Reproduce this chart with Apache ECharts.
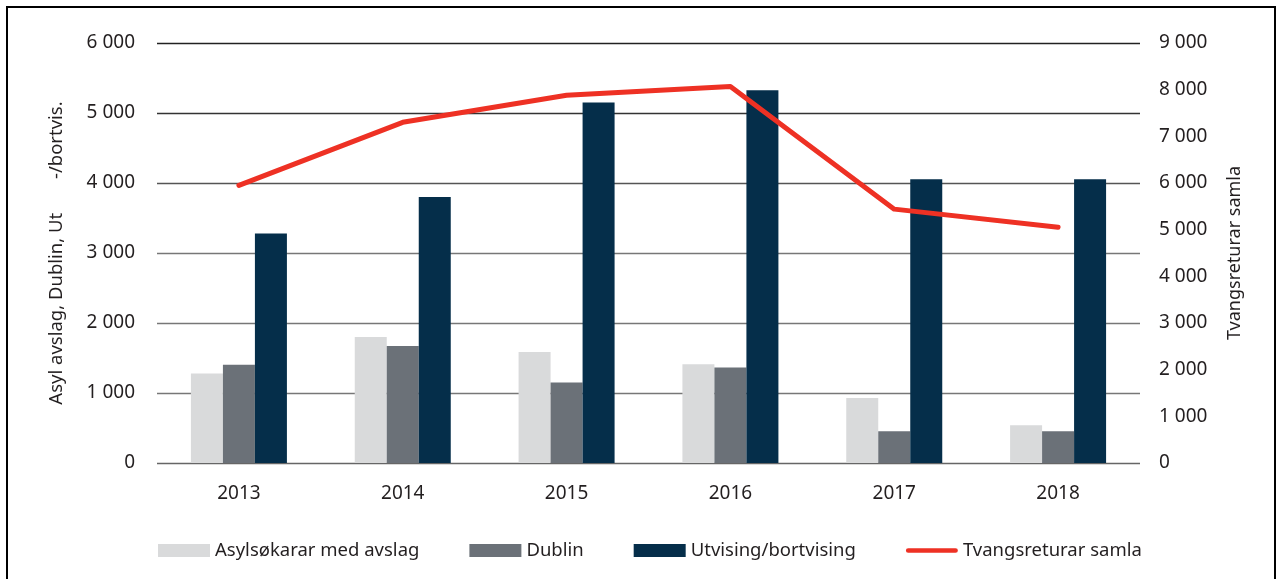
<!DOCTYPE html>
<html>
<head>
<meta charset="utf-8">
<script src="https://cdn.jsdelivr.net/npm/echarts@6/dist/echarts.min.js"></script>
<style>
  html, body { margin: 0; padding: 0; background: #fff; }
  #frame { position: absolute; left: 6px; top: 6px; width: 1266px; height: 580px; border: 2px solid #000; border-bottom: none; }
  #chart { position: absolute; left: 0; top: 0; width: 1281px; height: 579px; }
</style>
</head>
<body>
<div id="frame"></div>
<div id="chart"></div>
<script>
// data
const years = ['2013', '2014', '2015', '2016', '2017', '2018'];
const asylAvslag = [1280, 1800, 1585, 1410, 930, 540];
const dublin = [1405, 1670, 1150, 1365, 455, 455];
const utvising = [3280, 3800, 5150, 5325, 4055, 4055];
const tvangsreturar = [5950, 7300, 7880, 8070, 5440, 5050];

const fontFamily = '"Noto Sans", "Open Sans", sans-serif';
const textColor = '#231f20';

// "6 000" style tick labels
function fmt(v) {
  return String(v).replace(/\B(?=(\d{3})+(?!\d))/g, ' ');
}

let chart = echarts.init(document.getElementById('chart'));
chart.setOption({
  animation: false,
  textStyle: { fontFamily: fontFamily, color: textColor },
  grid: { left: 157, right: 141, top: 43, bottom: 116 },
  legend: {
    left: 158,
    top: 541,
    padding: 0,
    itemWidth: 52,
    itemHeight: 13,
    itemGap: 50,
    textStyle: { fontSize: 18.5, color: textColor, fontFamily: fontFamily },
    data: [
      { name: 'Asylsøkarar med avslag', icon: 'rect' },
      { name: 'Dublin', icon: 'rect' },
      { name: 'Utvising/bortvising', icon: 'rect' },
      { name: 'Tvangsreturar samla', icon: 'path://M2.5,0 L52.5,0 A2.5,2.5 0 0 1 52.5,5 L2.5,5 A2.5,2.5 0 0 1 2.5,0 Z' }
    ]
  },
  xAxis: {
    type: 'category',
    data: years,
    axisLine: { show: false },
    axisTick: { show: false },
    axisLabel: { fontSize: 19, color: textColor, margin: 21 }
  },
  yAxis: [
    {
      type: 'value',
      min: 0, max: 6000, interval: 1000,
      name: 'Asyl avslag, Dublin, Ut       -/bortvis.',
      nameLocation: 'middle',
      nameRotate: 90,
      nameGap: 91,
      nameTextStyle: { fontSize: 18.5, color: textColor },
      axisLine: { show: false },
      axisTick: { show: false },
      axisLabel: { fontSize: 19, color: textColor, margin: 22, formatter: fmt },
      splitLine: {
        lineStyle: {
          color: ['#666', '#777', '#777', '#777', '#555', '#333', '#222'],
          width: 1.4
        }
      }
    },
    {
      type: 'value',
      min: 0, max: 9000, interval: 1000,
      name: 'Tvangsreturar samla',
      nameLocation: 'middle',
      nameRotate: 90,
      nameGap: 86,
      nameTextStyle: { fontSize: 18, color: textColor },
      axisLine: { show: false },
      axisTick: { show: false },
      axisLabel: { fontSize: 19, color: textColor, margin: 19, formatter: fmt },
      splitLine: { show: false }
    }
  ],
  series: [
    {
      name: 'Asylsøkarar med avslag',
      type: 'bar',
      data: asylAvslag,
      barWidth: 32,
      barGap: '0%',
      itemStyle: { color: '#d9dadb' }
    },
    {
      name: 'Dublin',
      type: 'bar',
      data: dublin,
      barWidth: 32,
      barGap: '0%',
      itemStyle: { color: '#6b7178' }
    },
    {
      name: 'Utvising/bortvising',
      type: 'bar',
      data: utvising,
      barWidth: 32,
      barGap: '0%',
      itemStyle: { color: '#052e4a' }
    },
    {
      name: 'Tvangsreturar samla',
      type: 'line',
      yAxisIndex: 1,
      data: tvangsreturar,
      symbol: 'none',
      lineStyle: { color: '#ee3124', width: 5, cap: 'round', join: 'round' },
      itemStyle: { color: '#ee3124' }
    }
  ]
});
</script>
</body>
</html>
